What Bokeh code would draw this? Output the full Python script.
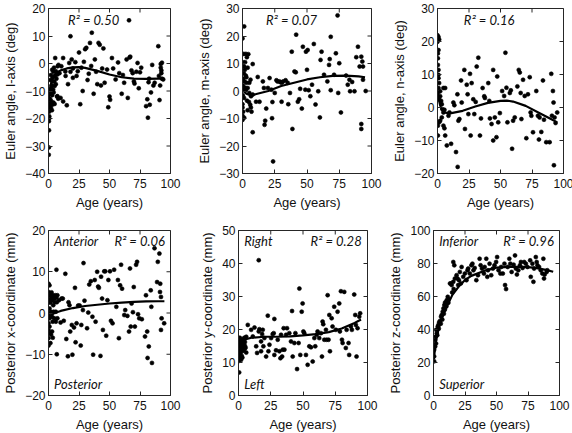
import math
from bokeh.plotting import figure
from bokeh.models import Range1d, FixedTicker, Label
from bokeh.layouts import column, row
from bokeh.embed import file_html
from bokeh.resources import INLINE

age_ticks = [0, 25, 50, 75, 100]
x_label = "Age (years)"

# ---------------- Panel 1: Euler angle, l-axis ----------------
l_points = [(0.2,-33.2),(0.3,-30.5),(0.4,-24.3),(0.3,-21),(0.5,-20),(0.6,-19.2),(0.5,-17.5),(0.8,-16),
            (1,-15.5),(1,-14.5),(1.2,-12.8),(1.5,-11),(1.5,-10.2),(2,-16.2),(2,-13.5),(2.3,-9),(2.5,-8),
            (2.8,-17),(3,-15),(3,-11.5),(3.2,-6.5),(3.5,-5),(3.8,-9.5),(4,-14.2),(4,-3),(4.5,-1.5),
            (4.7,-6.5),(5,-8.2),(5.2,-4.5),(5.5,2),(6,-7.5),(6,-2.8),(6.5,-5.5),(7,-12),(7.2,-4),(7.5,-1),
            (8,-12.8),(8.2,-0.5),(9,-3.5),(3,-2.3),(2,-4.2),(1.5,-6),(5,-14.7),(4.2,-10.5),(9.9,-12.5),
            (7.3,-11.9),(13.8,-2.9),
            (10.5,-1),(12,2),(12,-13.8),(14,-4.5),(15,-15.2),(16,-7.5),(17,0.2),(18,-3),(18,9.9),(19,1.5),
            (20,-1.8),(20,-5.2),(22,0.5),(23,-4.5),(24,-2.8),(25,4),(26,-14.8),(27,-1.5),(28,-10),(29,0.6),
            (30,5.2),(31,5.7),(32,-6),(33,-3.7),(34,7.5),(35,-0.9),(35.5,11.2),(37,-11),(38,1.5),(39,-3),
            (40,-7.5),(41,7.5),(42,6.8),(43,-8),(44,-1.8),(45,5.5),(46,-7),(48,-2.2),(49,-15.9),(50,-12),
            (50.5,-13.2),(52,2),(53,-1.8),(55,-5.8),(57,0.4),(58,-3.5),(60,-11),(61,-4.2),(62,-7),(64,1.5),
            (65,-12.5),(66,15.7),(66.5,2.2),(67,2.5),(68,-2.5),(69,-3.5),(70,-6.5),(70.5,-7.3),(72,-3),
            (73,0.2),(74,-9),(75,-3.2),(76,-1.5),(80,-15.5),(81,-13),(81.5,-19.7),(82,-6.8),(82.5,-5.5),
            (83,-15),(84,-10.5),(85,-0.5),(86,-8),(87,-7),(90,6.3),(90.5,-4.5),(91,-13.3),(92,-0.2),
            (92,-1.5),(92.5,-2.5),(92.5,-3.5),(93,-5.5),(91.5,-8),(93,0.3),(94,-5.8)]
l_fit_age = [0.3, 1, 2, 3, 5, 7, 10, 15, 20, 25, 30, 40, 50, 60, 70, 80, 90, 95]
l_fit_val = [-13, -10, -7.5, -6, -4.2, -3.2, -2.5, -1.8, -1.4, -1.3, -1.6, -2.7, -4, -5, -5.5, -5.6, -5.5, -5.5]

# ---------------- Panel 2: Euler angle, m-axis ----------------
m_points = [(0,19.1),(1.3,23.5),(0.8,13.5),(2.6,13.5),(4.5,13.4),(3.4,12.3),(0.8,10.4),(1.3,8.9),(1.8,7.7),
            (1.0,6.5),(2.5,5.6),(0.5,4.5),(1.5,3.5),(3,3),(0.3,2),(2,1.2),(0.8,0.5),(2.6,0.3),(4,1.1),
            (5.3,3),(6.2,4.1),(5.3,-0.7),(0.2,-1.5),(1.2,-2.5),(0,-4.8),(0,-6),(0,-9),(0,-10.5),(1.3,-9.7),
            (0.5,-7.5),(3.5,-3.5),(6.6,-1.9),(7.9,-1.3),(7.9,9.8),(7.9,-15),(6,-5),(5,-4),(4,-7),(7,-7.5),
            (6.5,-6),(3,5),(4,8.5),(2,10.5),
            (10.5,-3.9),(11.8,5.1),(13.2,-3.9),(15.8,3.5),(16.6,1.1),(17.1,-12.3),(17.6,-10.8),(18.4,-6.4),
            (19.7,1.1),(21,4.7),(22.4,0.5),(22.9,-9.9),(23.2,-4),(23.7,-25.6),(25,-0.7),(26.3,3.9),(27.1,3.5),
            (28.5,3.5),(29.5,3.2),(30.5,3),(31.5,3.5),(30.3,-3.9),(33.4,3.9),(35,3),(35.5,-4.8),(36.8,-0.7),
            (38.2,14.3),(38.7,-13.8),(40.3,7.1),(41.3,6.8),(41.6,20.5),(42.9,-3.9),(43.9,-3),(44.7,0.8),
            (46,-6.4),(46.8,16.1),(48.7,0.5),(49.2,14.3),(50,7.7),(50.5,14.9),(51.3,0.3),(52.6,-1.9),
            (53.9,2.3),(55.3,17.1),(56.6,-4.9),(58.7,-0.1),(60,-9.6),(60.5,11.3),(61.3,14.3),(63.2,5.9),
            (65.8,3.5),(67.1,9.5),(67.6,11.6),(68.4,19.7),(68.4,0.3),(71,5.9),(72.4,13.7),(73.7,27.5),
            (74.2,-0.7),(75,10.1),(76.3,-7.8),(80.3,5.6),(81.6,2.3),(82.9,4.1),(83.4,-0.1),(85,3.3),
            (86.8,-0.1),(88.2,12.3),(89.5,16.1),(90.8,8.9),(92.1,12.5),(92.9,10.7),(93.4,8.9),(92.1,-12),
            (92.1,-13.8),(93.4,4.1),(95.5,0)]
m_fit_age = [0, 3, 6, 10, 20, 30, 40, 50, 60, 70, 80, 90, 95]
m_fit_val = [0.3, -1, -1.5, -1.2, 0, 1.8, 3, 4.2, 5, 5.5, 5.6, 5.3, 5]

# ---------------- Panel 3: Euler angle, n-axis ----------------
n_points = [(0,21.9),(0.8,21.4),(0,19.9),(1.3,20.6),(0.8,17.4),(0.3,16.4),(0.3,14.9),(0.3,12.9),(0.8,11.4),
            (0.8,9.9),(0.8,8.9),(1.3,7.4),(0.8,5.9),(0.3,4.4),(2.1,4.9),(2.1,3.4),(1.3,2.5),(2.9,2),(3.4,1),
            (3.9,-0.5),(4.7,-1.5),(5.5,-0.7),(3.4,-3),(2.1,-4),(1.3,-4.5),(0.3,-5.5),(0.3,-8.5),(4.7,5.9),
            (6.1,5.9),(4.7,-5.5),(5.5,-6.3),(6.1,-8.5),(7.4,-11.5),(8.7,-2.5),(9.5,-1.5),(10.8,-11),
            (12.6,1.5),(13.4,0.7),(14.7,-13.5),(15.8,4),(16.6,-4),(16,-18),(17.4,-3.5),(18.7,8.2),(19.2,1.5),
            (21.3,11.4),(21.8,-6.5),(23.2,6.9),(23.9,4),(24.5,-2),(25.8,10.2),(26.3,-8.5),(27.1,7.4),
            (28.4,2.5),(29.2,-2),(30.3,1.7),(31.1,12.4),(32.4,15.1),(33.7,-8.5),(34.5,-3.3),(35.8,5.9),
            (37.1,3.4),(37.6,2.9),(40.3,7.4),(41.1,2),(41.6,-3.3),(42.9,-5),(44.2,11.4),(44.2,-10),(45.5,-3),
            (46.8,-9),(47.4,9.4),(48.2,-4.5),(49.5,-1.7),(51.3,5),(52.9,3.5),(53.9,16.6),(54.7,6),(55.5,-4.5),
            (57.4,4.4),(58.2,5.2),(59.2,-12.5),(60,-4),(61.3,-3),(63.4,6.4),(64.5,11.4),(65.3,10.6),(66,4.4),
            (66.6,-3.5),(67.9,8.4),(69.2,3.5),(70.5,-9.3),(71.8,4),(73.2,9.2),(73.9,-1.5),(74.5,-2.5),
            (75.8,-7.5),(78.4,5),(79.7,-2.5),(80.5,-9.7),(81,-3),(82.4,-7.4),(83.7,8.2),(84.5,-3.7),
            (86.3,-10.5),(89,-10.5),(90.3,10.2),(90.8,-2.5),(91.6,5),(92.1,1.5),(92.4,-17.5),(92.9,-3),
            (93.7,-4.7),(95,-1.5)]
n_fit_age = [0, 1, 2, 3, 5, 10, 20, 30, 40, 50, 55, 60, 70, 80, 90, 95]
n_fit_val = [4.5, 2.5, 0.8, -0.3, -1.5, -1.8, -1.0, 0.3, 1.4, 2.0, 2.1, 1.8, 0.5, -1.5, -3.5, -4.5]

# ---------------- Panel 4: Posterior x-coordinate ----------------
x_points = [(0,7.1),(0.8,6.7),(0,5.1),(0.8,4.3),(2.1,3.9),(3.4,4.3),(2.9,3.1),(4.7,3.5),(5.2,2.6),(3.9,1.9),
            (0.8,1.1),(0,-0.1),(0.8,-1.3),(0,-2.5),(0.8,-3.3),(0,-4.1),(0.8,-4.9),(0,-6.1),(0,-7.9),(1.6,-7.3),
            (2.1,-5.3),(2.9,-4.5),(3.4,-2.1),(2.9,-0.9),(4.7,-1.3),(4.2,0.3),(2.1,0.3),(6,0.3),(5.5,4.3),
            (6.5,3.7),(7.3,4.3),(6.8,2.6),(7.3,-1.3),(6,-2.1),(1.5,2.5),(2.5,5),(1.2,3.2),(3.5,-6),
            (6.5,10.5),(6.8,-10),(8.6,3.1),(9.9,-2.3),(10.7,3.5),(11.7,3.5),(12.5,-1.9),(13.8,9.5),(14.6,-6.3),
            (15.9,-10.5),(16.4,2.6),(17.2,1.9),(17.8,-4.5),(19.1,-2.9),(19.6,-10.1),(20.9,-3.5),(21.7,6.1),
            (22.2,-7.1),(23,-2.5),(24.3,1.8),(25.5,1.8),(26.4,-7.9),(26.9,-2.9),(28.2,0.7),(28.7,12.1),
            (29.5,3),(31.6,-3.7),(32.6,0.1),(33.4,6.9),(34.7,7.7),(36,-0.9),(36.6,-10.1),(37.9,8),(38.6,-2.1),
            (39.9,10),(40.7,6.4),(41.3,6.1),(42.6,-10.4),(43.1,8.8),(43.9,3.5),(44.6,-4.1),(45.7,10.1),
            (46.5,10.1),(47.3,-5.5),(48.3,3.1),(49.1,8),(50.4,10.1),(51.2,-1.9),(52.5,-2.5),(53.8,10.5),
            (55.6,1.5),(56.9,8),(57.7,-6.1),(58.7,6.7),(59.5,11.7),(60.3,5.9),(62.1,-0.5),(62.9,0.7),
            (64.7,-0.7),(66,-4.5),(66.8,10.8),(67.4,-3.3),(68.1,2.3),(69.2,0.2),(69.9,6.3),(70.8,-3.3),
            (71.8,11.7),(72.6,12.4),(73.4,-0.3),(74.4,-1.3),(76.5,-1.5),(79.1,-5.7),(79.9,4.3),(80.9,-4.5),
            (81.2,-10.9),(82.2,-8.1),(83.8,5.5),(84.3,1.5),(84.8,-12.1),(86.9,15.7),(89,7.5),(89.6,12.4),
            (90.9,14.4),(91.4,5.1),(91.6,7.1),(92.2,3.9),(92.2,-4.1),(92.7,-1.3),(94.8,-2.5)]
x_fit_age = [0, 2, 5, 10, 20, 30, 40, 50, 60, 70, 80, 90, 95]
x_fit_val = [-1, -0.5, 0, 0.5, 1.2, 1.7, 2.0, 2.3, 2.5, 2.7, 2.8, 2.85, 2.85]

# ---------------- Panel 5: Posterior y-coordinate ----------------
y_points = [(0.5,7),(0.5,10.5),(0.8,11.5),(1,12.5),(1,13.5),(1,14.8),(1.5,15.5),(1.5,16.5),(2,17),(2,14),
            (2.5,12),(2.5,15.2),(3,16),(3,14.5),(3.5,13.5),(3.5,17),(4,15.5),(4,16.8),(4.5,14),(4.5,17.5),
            (5,15),(5,16.2),(5.5,14.5),(6,17.8),(6,13),(3,11.5),(2,10.8),(1.5,12.8),(0.3,16),(1,17.5),
            (7.2,21.4),(9.8,19.9),(11.1,17.9),(12.4,20.6),(13.7,14.9),(14.4,12.9),(15.7,41),(15.7,19.4),
            (16.2,20.1),(17.5,16.4),(17.5,13.4),(18.3,18.6),(18.8,19.9),(19.3,14.9),(20.1,17.4),(21.4,11.8),
            (22.7,24.2),(23.2,13.4),(24,15.4),(25.3,17.4),(26.5,18.6),(27.3,18.9),(27.8,23.2),(27.8,12.3),
            (29.1,13.7),(30.4,16.9),(31.7,13.4),(32.5,11.3),(33,18.4),(33.8,11.8),(34.3,13.9),(35,20.4),
            (35.6,13.9),(36.9,18.4),(37.6,20.4),(39.4,18.9),(40.7,16.4),(41.5,25.6),(42,11.8),(43.3,15.9),
            (44.1,18.9),(45.4,8.0),(46.6,15.9),(47.2,32.4),(47.9,12.3),(49,25.4),(49.7,27.9),(50.3,19.4),
            (51,18.9),(52.3,12.3),(53.6,9.3),(54.9,14.9),(56.2,14.6),(57.5,10.3),(58.8,17.4),(59.5,14.9),
            (60.6,18.4),(61.3,19.4),(62.6,17.4),(63.9,18.9),(64.7,11.8),(65.2,22.4),(65.7,21.6),(66.5,16.9),
            (67.8,19.9),(68.3,16.9),(69.1,30.4),(69.8,16.9),(70.4,24.4),(70.9,13.4),(72.2,23.4),(72.9,20.9),
            (74.2,26.9),(75.5,19.9),(76.8,25.4),(78.1,27.9),(78.6,19.4),(79.4,31.6),(80.2,16.9),(80.7,15.9),
            (82,31.4),(83.2,14.4),(83.8,19.9),(85.3,15.9),(85.8,12.3),(87.1,20.9),(87.9,19.9),(89.7,30.6),
            (90.5,24.4),(91,21.4),(91.5,11.8),(92.3,20.4),(93.6,23.9),(94.3,24.9)]
y_fit_age = [0, 2, 5, 10, 20, 30, 40, 50, 60, 70, 80, 90, 95]
y_fit_val = [14.5, 16.2, 17.0, 17.5, 17.8, 17.8, 17.9, 18.2, 18.6, 19.2, 20.3, 22.0, 23.0]

# ---------------- Panel 6: Posterior z-coordinate ----------------
z_points = [(0.5,20.7),(0.5,23.7),(0.5,27.7),(1.3,29.7),(1.3,33.7),(1.8,35.7),(2.6,37.8),(2.1,39.8),
            (3.4,41.8),(3.9,42.8),(4.5,44.4),(5.2,45.2),(6,47.8),(6.5,48.8),(7.3,50.8),(7.9,52.8),(8.6,54.8),
            (9.2,56.4),(9.7,55.2),(10.5,57.8),(11.3,59.8),(11.8,56.2),(13.1,67.9),(13.9,67.9),(14.4,66.9),
            (15.7,68.9),(15.7,80.9),(16.5,78.9),(17,70.9),(18.3,72.9),(19.1,70.9),(19.6,66.9),(20.2,69.9),
            (20.9,74.9),(21.7,67.9),(22.3,77.9),(23.6,71.9),(24.9,73.9),(26.2,69.9),(27,75.9),(27.5,76.9),
            (28.8,73.9),(30.1,78.9),(30.9,79.9),(31.7,75.9),(32.7,77.3),(34,69.9),(35.3,72.9),(36.6,82.9),
            (37.4,78.9),(38.5,76.9),(40,73.9),(40.6,77.9),(41.9,82.9),(42.7,71.9),(43.2,75.9),(44.5,79.9),
            (45.8,72.9),(47.1,76.9),(48.4,78.9),(49.7,80.9),(50.5,83.9),(51.6,75.9),(53.1,73.9),(53.7,77.9),
            (55,73.9),(56.3,79.9),(56.8,66.9),(57.6,64.5),(58.9,77.9),(60.2,82.9),(61,79.9),(62,74.9),
            (63.6,79.3),(64.7,84.9),(65.4,76.9),(66.2,73.3),(67.3,75.9),(68.6,78.9),(69.4,80.9),(70.7,77.3),
            (72,80.9),(73.3,79.9),(74.6,77.9),(76.7,81.9),(77.2,71.9),(78.5,79.9),(79.3,68.9),(79.8,76.9),
            (81.2,83.9),(81.9,80.9),(82.5,78.9),(83.8,77.9),(85.1,75.9),(86.4,73.9),(87.2,82.9),(87.7,70.9),
            (88.2,73.3),(89.8,74.9),(90.3,75.9),(2.0,31.5),(3.0,36.5),(4.2,40.5),(5.8,43.5),(7.0,46.0),
            (8.2,49.5),(9.0,52.0),(10.2,54.0),(12.0,58.5),(14.8,62.5),(16.0,64.5)]
z_fit_age = [0.3, 1, 2, 3, 5, 7, 10, 15, 20, 25, 30, 40, 50, 60, 70, 80, 90, 95]
z_fit_val = [22, 27, 33, 37, 43, 47.5, 53, 61, 66, 70, 72.5, 75.5, 77.5, 78, 78, 77.5, 76, 75]

AX = "#262626"
FONT = "Liberation Sans"


def make_panel(points, fit_x, fit_y, y0, y1, ystep, ylabel, notes,
               L, W, R, T, B, H):
    p = figure(frame_width=W, frame_height=H, x_range=Range1d(0, 100), y_range=Range1d(y0, y1),
               output_backend="svg", toolbar_location=None,
               min_border_left=L, min_border_right=R, min_border_top=T, min_border_bottom=B)
    p.grid.visible = False
    p.outline_line_color = AX
    p.outline_line_width = 1
    p.background_fill_color = "white"
    p.border_fill_color = "white"
    yt = list(range(y0, y1 + 1, ystep))
    p.xaxis.ticker = FixedTicker(ticks=age_ticks)
    p.yaxis.ticker = FixedTicker(ticks=yt)
    p.yaxis.major_label_overrides = {t: (("\u2212" + str(-t)) if t < 0 else str(t)) for t in yt}
    for ax in (p.xaxis[0], p.yaxis[0]):
        ax.major_tick_in = 4
        ax.major_tick_out = 0
        ax.minor_tick_line_color = None
        ax.axis_line_color = AX
        ax.major_tick_line_color = AX
        ax.major_label_text_color = "#111111"
        ax.major_label_text_font = FONT
        ax.major_label_text_font_size = "12px"
        ax.axis_label_text_font = FONT
        ax.axis_label_text_font_size = "13px"
        ax.axis_label_text_font_style = "normal"
        ax.axis_label_text_color = "#111111"
    p.xaxis.axis_label = x_label
    p.xaxis.major_label_standoff = 5
    p.xaxis.axis_label_standoff = 4
    p.yaxis.axis_label = ylabel
    p.yaxis.major_label_standoff = 3
    p.yaxis.axis_label_standoff = 4
    # mirrored tick marks on the top and right edges (drawn as dashes clipped by the frame)
    p.scatter(age_ticks, [y1] * len(age_ticks), marker="dash", angle=math.pi / 2, size=8,
              line_color=AX, line_width=1)
    p.scatter([100] * len(yt), yt, marker="dash", size=8, line_color=AX, line_width=1)
    xs = [pt[0] for pt in points]
    ys = [pt[1] for pt in points]
    p.scatter(xs, ys, size=4, marker="circle", fill_color="black", line_color="black", line_width=0.6)
    p.line(fit_x, fit_y, line_color="black", line_width=2.2)
    for (tx, ty, txt, align) in notes:
        p.add_layout(Label(x=tx, y=ty, text=txt, text_align=align, text_baseline="middle",
                           text_font="Lato", text_font_style="italic", text_font_size="13px",
                           text_color="#111111"))
    return p


H = 165
p1 = make_panel(l_points, l_fit_age, l_fit_val, -40, 20, 10, "Euler angle, l-axis (deg)",
                [(37, 15.9, "R\u00b2 = 0.50", "center")], L=44, W=122, R=24, T=8, B=40, H=H)
p2 = make_panel(m_points, m_fit_age, m_fit_val, -30, 30, 10, "Euler angle, m-axis (deg)",
                [(38, 25.9, "R\u00b2 = 0.07", "center")], L=44, W=129, R=18, T=8, B=40, H=H)
p3 = make_panel(n_points, n_fit_age, n_fit_val, -20, 30, 10, "Euler angle, n-axis (deg)",
                [(41, 26.6, "R\u00b2 = 0.16", "center")], L=44, W=126, R=12, T=8, B=40, H=H)
p4 = make_panel(x_points, x_fit_age, x_fit_val, -20, 20, 10, "Posterior x-coordinate (mm)",
                [(4.5, 17.5, "Anterior", "left"), (95.5, 17.5, "R\u00b2 = 0.06", "right"),
                 (4.5, -17.2, "Posterior", "left")], L=44, W=122, R=24, T=17, B=40, H=H)
p5 = make_panel(y_points, y_fit_age, y_fit_val, 0, 50, 10, "Posterior y-coordinate (mm)",
                [(4.5, 46.9, "Right", "left"), (95.5, 46.9, "R\u00b2 = 0.28", "right"),
                 (4.5, 3.4, "Left", "left")], L=44, W=129, R=18, T=17, B=40, H=H)
p6 = make_panel(z_points, z_fit_age, z_fit_val, 0, 100, 20, "Posterior z-coordinate (mm)",
                [(4.5, 93.7, "Inferior", "left"), (95.5, 93.7, "R\u00b2 = 0.96", "right"),
                 (4.5, 6.9, "Superior", "left")], L=44, W=126, R=12, T=17, B=40, H=H)

layout = column(row(p1, p2, p3, spacing=0), row(p4, p5, p6, spacing=0), spacing=0)
open("out.html", "w").write(file_html(layout, INLINE))
